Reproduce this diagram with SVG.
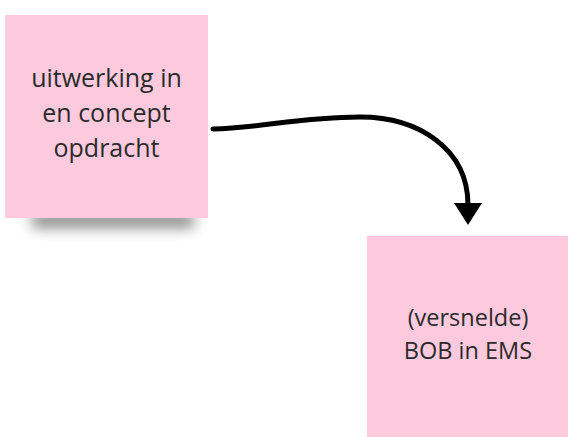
<svg xmlns="http://www.w3.org/2000/svg" width="568" height="437" viewBox="0 0 568 437">
  <style>
    .note { fill: #fdcadd; }
    .label { font-family: "Open Sans", "Liberation Sans", sans-serif; font-size: 25px; fill: #2a2a2a; text-anchor: middle; }
    .small { font-size: 23.5px; }
    .conn { fill: none; stroke: #000; stroke-width: 5; stroke-linecap: round; }
  </style>
  <defs>
    <filter id="blur" x="-30%" y="-150%" width="160%" height="400%">
      <feGaussianBlur stdDeviation="7"/>
    </filter>
    <marker id="arrow" viewBox="0 0 22 28" refX="2" refY="14" markerWidth="22" markerHeight="28" markerUnits="userSpaceOnUse" orient="auto">
      <path d="M0,0 L22,14 L0,28 z" fill="#000"/>
    </marker>
  </defs>
  <rect width="568" height="437" fill="#ffffff"/>

  <g id="node-uitwerking">
    <rect x="32" y="212" width="162" height="16" fill="#000" opacity="0.45" filter="url(#blur)"/>
    <rect class="note" x="5" y="15" width="203" height="203"/>
    <text class="label" x="106.5" y="87">uitwerking in</text>
    <text class="label" x="106.5" y="122">en concept</text>
    <text class="label" x="106.5" y="157">opdracht</text>
  </g>

  <g id="node-bob">
    <rect class="note" x="367" y="236" width="203" height="203"/>
    <text class="label small" x="468" y="326">(versnelde)</text>
    <text class="label small" x="468" y="359">BOB in EMS</text>
  </g>

  <g id="connectors">
    <path class="conn" d="M213,129 C260,128 300,117 360,117 C420,117 468,150 468,205" marker-end="url(#arrow)"/>
  </g>
</svg>
